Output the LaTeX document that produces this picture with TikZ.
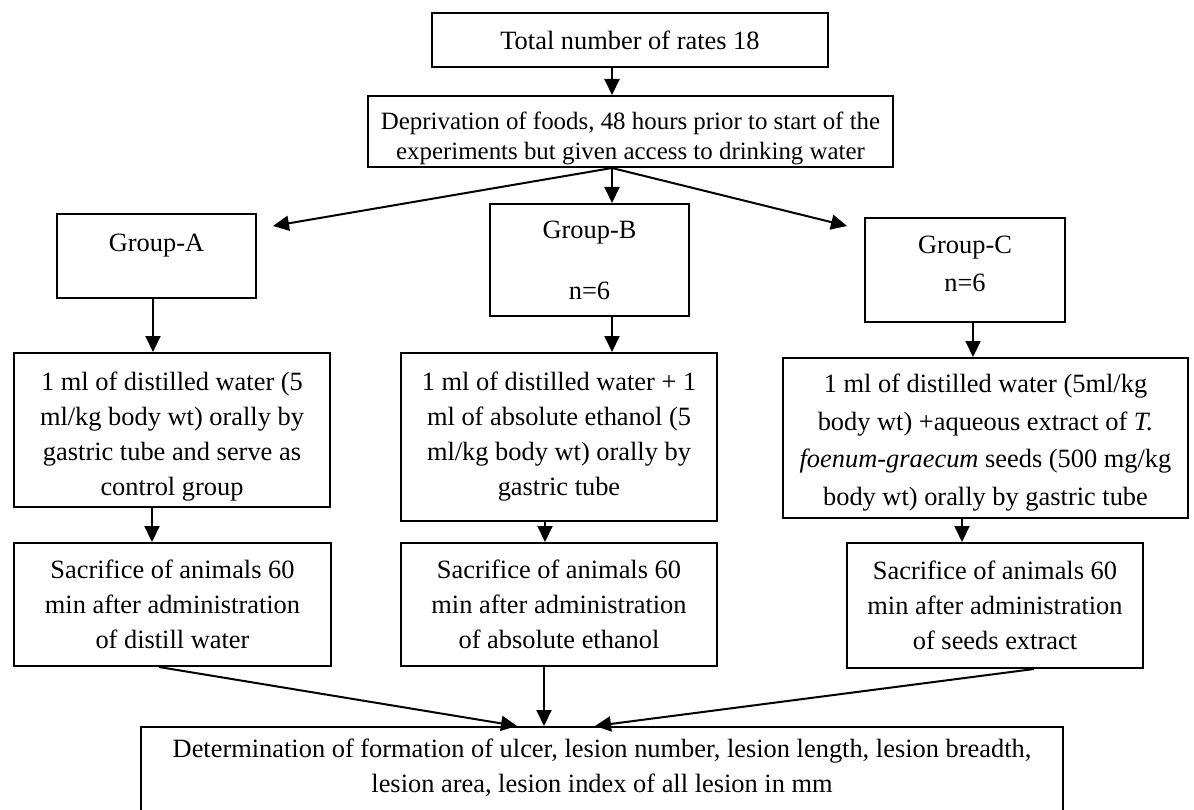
\documentclass[tikz,border=0pt]{standalone}
\usepackage{fontspec}
\setmainfont{Liberation Serif}
\usetikzlibrary{arrows.meta}

% empty line above the text, to push it down in its box
\newcommand\padtop[1]{\strut\\[#1]}

\begin{document}
\begin{tikzpicture}[x=1pt, y=-1pt,
  box/.style={draw, line width=2pt, align=center, inner sep=0pt,
              font=\fontsize{26.4}{35}\selectfont},
  arr/.style={line width=2pt, -{Triangle[length=16pt,width=15pt]}}]

\useasboundingbox (0,0) rectangle (1194,810);
\clip (0,0) rectangle (1194,810);

%---------------------------------------
% Top: all animals, fasting
%---------------------------------------
\node[box, minimum width=396, minimum height=54] (total) at (630,40)
  {Total number of rates 18};
\node[box, minimum width=525, minimum height=71,
      font=\fontsize{24.9}{30}\selectfont] (depriv) at (630.5,131.5)
  {\padtop{-20pt}Deprivation of foods, 48 hours prior to start of the\\
   experiments but given access to drinking water};

\coordinate (split) at ([xshift=-18.5pt]depriv.south);

%---------------------------------------
% Groups
%---------------------------------------
\node[box, minimum width=199, minimum height=84] (grpA) at (156.5,256)
  {Group-A\\[-20pt] \strut};
\node[box, minimum width=199, minimum height=112] (grpB) at (589.5,260)
  {Group-B\\[26pt] n=6};
\node[box, minimum width=200, minimum height=104] (grpC) at (965,270)
  {Group-C\\[3pt] n=6\\[-33.5pt] \strut};

% Treatment
\node[box, minimum width=316, minimum height=154] (doseA) at (172,430)
  {\padtop{-27.5pt}1 ml of distilled water (5\\ ml/kg body wt) orally by\\
   gastric tube and serve as\\ control group};
\node[box, minimum width=316, minimum height=168] (doseB) at (559,437)
  {1 ml of distilled water + 1\\ ml of absolute ethanol (5\\
   ml/kg body wt) orally by\\ gastric tube};
\node[box, minimum width=405, minimum height=160,
      font=\fontsize{26.4}{37.5}\selectfont] (doseC) at (985.5,438)
  {\padtop{-36pt}1 ml of distilled water (5ml/kg\\
   body wt) +aqueous extract of \textit{T.}\\
   \textit{foenum-graecum} seeds (500 mg/kg\\
   body wt) orally by gastric tube};

% Sacrifice
\node[box, minimum width=317, minimum height=123] (sacA) at (172.5,604.5)
  {Sacrifice of animals 60\\ min after administration\\ of distill water};
\node[box, minimum width=316, minimum height=123] (sacB) at (559,604.5)
  {Sacrifice of animals 60\\ min after administration\\ of absolute ethanol};
\node[box, minimum width=296, minimum height=125] (sacC) at (995,605.5)
  {Sacrifice of animals 60\\ min after administration\\ of seeds extract};

%---------------------------------------
% Bottom: measurements
%---------------------------------------
\node[box, minimum width=922, minimum height=112] (result) at (602,783)
  {Determination of formation of ulcer, lesion number, lesion length, lesion breadth,\\
   lesion area, lesion index of all lesion in mm\\[-10pt] \strut};

% Arrows
\draw[arr] (total.south -| split) -- (depriv.north -| split);
\draw[arr] (split) -- ([shift={(16,-30)}]grpA.east);
\draw[arr] (split) -- (grpB.north -| split);
\draw[arr] (split) -- ([shift={(-17,-44)}]grpC.west);

\draw[arr] ([xshift=-3.5pt]grpA.south) -- ([xshift=-3.5pt]grpA.south |- doseA.north);
\draw[arr] (grpB.south -| split) -- (doseB.north -| split);
\draw[arr] ([xshift=8pt]grpC.south) -- ([xshift=8pt]grpC.south |- doseC.north);

\draw[arr] ([xshift=-20pt]doseA.south) -- ([xshift=-20pt]doseA.south |- sacA.north);
\draw[arr] ([xshift=-14pt]doseB.south) -- ([xshift=-14pt]doseB.south |- sacB.north);
\draw[arr] ([xshift=-23.5pt]doseC.south) -- ([xshift=-23.5pt]doseC.south |- sacC.north);

\draw[arr] ([xshift=-13.5pt]sacA.south) -- ([xshift=-85pt]result.north);
\draw[arr] ([xshift=-15pt]sacB.south) -- ([xshift=-58pt]result.north);
\draw[arr] ([xshift=39pt]sacC.south) -- ([xshift=-7pt]result.north);

\end{tikzpicture}
\end{document}
